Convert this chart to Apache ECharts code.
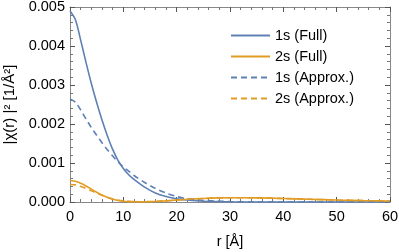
<!DOCTYPE html>
<html style="height: 100%">
<head>
<meta charset="utf-8">
<script src="https://cdn.jsdelivr.net/npm/echarts@6/dist/echarts.min.js"></script>
</head>
<body style="height: 100%; margin: 0; background: #fff">
<div id="container" style="width: 399px; height: 252px"></div>
<script type="text/javascript">
// radius grid [Å]
const r = [0, 1, 2, 3, 4, 5, 6, 7, 8, 9, 10, 11, 12, 14, 16, 18, 20, 22, 25, 28, 30, 35, 40, 45, 50, 55, 60];
// |chi(r)|^2
const s1Full = [0.0049, 0.00468, 0.00415, 0.00358, 0.00304, 0.00255, 0.0021, 0.0017, 0.00135, 0.00107, 0.00086, 0.0007, 0.00058,
    0.00038, 0.00023, 0.00014, 0.00008, 0.00005, 0.00002, 0.00001, 0.000005, 0, 0, 0, 0, 0, 0];
const s2Full = [0.00055, 0.00053, 0.00048, 0.00041, 0.00033, 0.00025, 0.00018, 0.00012, 0.00007, 0.00004, 0.00002, 0.00001, 0.000004,
    0.000002, 0.000012, 0.00003, 0.00005, 0.00007, 0.00009, 0.000105, 0.00011, 0.000105, 0.00009, 0.00007, 0.00005, 0.000035, 0.000025];
const s1Approx = [0.00264, 0.00256, 0.00236, 0.00213, 0.00191, 0.00171, 0.00152, 0.00134, 0.00118, 0.00103, 0.0009, 0.00079, 0.00068,
    0.0005, 0.00035, 0.00023, 0.00014, 0.00008, 0.00004, 0.00002, 0.00001, 0, 0, 0, 0, 0, 0];
const s2Approx = [0.00045, 0.00044, 0.0004, 0.00035, 0.00029, 0.00023, 0.00017, 0.00012, 0.00008, 0.00005, 0.00003, 0.000018, 0.00001,
    0.000008, 0.000015, 0.00003, 0.00005, 0.00007, 0.00009, 0.000105, 0.00011, 0.000105, 0.00009, 0.00007, 0.00005, 0.000035, 0.000025];
const xTicks = [0, 10, 20, 30, 40, 50, 60];
const yTicks = [0, 0.001, 0.002, 0.003, 0.004, 0.005];

const blue = '#5E81B5';
const orange = '#E19C24';
const font = 'Liberation Sans, Arial, sans-serif';
const fs = 14.5;

function pairs(ys) {
    return r.map(function (x, i) { return [x, ys[i]]; });
}
function line(name, ys, color, dashed) {
    return {
        name: name,
        type: 'line',
        data: pairs(ys),
        symbol: 'none',
        smooth: 0.3,
        lineStyle: { color: color, width: 1.6, type: dashed ? [6, 4] : 'solid' },
        itemStyle: { color: color }
    };
}
function frameAxis(pos, isX, showLabels) {
    const ticks = isX ? xTicks : yTicks;
    return {
        type: 'value',
        position: pos,
        min: ticks[0],
        max: ticks[ticks.length - 1],
        interval: ticks[1] - ticks[0],
        axisLine: { show: true, onZero: false, lineStyle: { color: '#888', width: 1 } },
        axisTick: { show: true, inside: true, length: 5, lineStyle: { color: '#555' } },
        minorTick: { show: true, splitNumber: 5, length: 3, lineStyle: { color: '#777' } },
        splitLine: { show: false },
        axisLabel: {
            show: showLabels,
            color: '#000',
            fontFamily: font,
            fontSize: fs,
            margin: isX ? 7 : 5,
            formatter: isX ? '{value}' : function (v) { return v.toFixed(3); }
        }
    };
}

const chart = echarts.init(document.getElementById('container'));
const xb = frameAxis('bottom', true, true);
xb.name = 'r [Å]';
xb.nameLocation = 'middle';
xb.nameGap = 32;
xb.nameTextStyle = { color: '#000', fontFamily: font, fontSize: fs };
const yl = frameAxis('left', false, true);
yl.name = '|χ(r) |² [1/Å²]';
yl.nameLocation = 'middle';
yl.nameGap = 52;
yl.nameTextStyle = { color: '#000', fontFamily: font, fontSize: 15 };

chart.setOption({
    animation: false,
    grid: { left: 70, right: 9, top: 7, bottom: 50, containLabel: false, outerBoundsMode: 'none' },
    legend: {
        orient: 'vertical',
        left: 230,
        top: 28,
        padding: 0,
        itemWidth: 39,
        itemHeight: 14,
        itemGap: 6,
        itemStyle: { opacity: 0 },
        textStyle: { color: '#000', fontFamily: font, fontSize: fs },
        data: ['1s (Full)', '2s (Full)', '1s (Approx.)', '2s (Approx.)']
    },
    xAxis: [xb, frameAxis('top', true, false)],
    yAxis: [yl, frameAxis('right', false, false)],
    series: [
        line('1s (Full)', s1Full, blue, false),
        line('2s (Full)', s2Full, orange, false),
        line('1s (Approx.)', s1Approx, blue, true),
        line('2s (Approx.)', s2Approx, orange, true)
    ]
});
</script>
</body>
</html>
